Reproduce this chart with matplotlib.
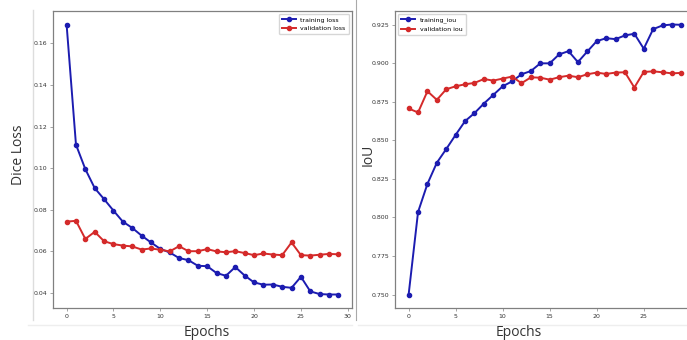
import matplotlib
matplotlib.use('Agg')
import matplotlib.pyplot as plt
from matplotlib.lines import Line2D
import numpy as np

epochs = list(range(30))

train_loss = [0.169, 0.1113, 0.0995, 0.0904, 0.0851, 0.0796, 0.0743, 0.0713, 0.0676, 0.0643,
              0.0612, 0.0595, 0.0568, 0.0558, 0.0531, 0.0529, 0.0496, 0.0483, 0.0525, 0.0484,
              0.0451, 0.0440, 0.0441, 0.0430, 0.0425, 0.0478, 0.0408, 0.0395, 0.0393, 0.0393]
val_loss = [0.0743, 0.0747, 0.0660, 0.0694, 0.0649, 0.0635, 0.0628, 0.0624, 0.0609, 0.0614,
            0.0608, 0.0600, 0.0625, 0.0601, 0.0601, 0.0611, 0.0600, 0.0596, 0.0601, 0.0592,
            0.0582, 0.0590, 0.0585, 0.0582, 0.0643, 0.0582, 0.0580, 0.0584, 0.0588, 0.0586]

train_iou = [0.750, 0.8035, 0.8218, 0.8355, 0.8444, 0.8536, 0.8625, 0.8677, 0.8739, 0.8795,
             0.8851, 0.8883, 0.8929, 0.8950, 0.9000, 0.9000, 0.9058, 0.9079, 0.9008, 0.9077,
             0.9144, 0.9163, 0.9157, 0.9181, 0.9192, 0.9095, 0.9222, 0.9246, 0.9252, 0.9250]
val_iou = [0.8707, 0.8681, 0.8819, 0.8763, 0.8832, 0.8851, 0.8864, 0.8873, 0.8898, 0.8888,
           0.8901, 0.8914, 0.8871, 0.8909, 0.8907, 0.8894, 0.8910, 0.8920, 0.8910, 0.8929,
           0.8940, 0.8931, 0.8940, 0.8942, 0.8843, 0.8944, 0.8948, 0.8942, 0.8935, 0.8938]

blue = '#1c1cb0'
red = '#d42a2a'
W, H = 687.0, 340.0

fig = plt.figure(figsize=(6.87, 3.40), dpi=100)

def style(ax):
    for s in ax.spines.values():
        s.set_color('#808080')
        s.set_linewidth(0.9)
    ax.tick_params(labelsize=4.5, length=2, width=0.5, colors='#808080', labelcolor='#333333', pad=2)

ax1 = fig.add_axes([53 / W, 1 - 308 / H, 299 / W, 297 / H])
ax1.plot(epochs, train_loss, '-o', color=blue, lw=1.4, ms=3, label='training loss')
ax1.plot(epochs, val_loss, '-o', color=red, lw=1.4, ms=3, label='validation loss')
ax1.set_xticks([0, 5, 10, 15, 20, 25, 30])
ax1.set_yticks([0.04, 0.06, 0.08, 0.10, 0.12, 0.14, 0.16])
ax1.set_xlim(-1.45, 30.45)
ax1.legend(loc='upper right', fontsize=4.5, frameon=True, handlelength=2.2, borderpad=0.5)
style(ax1)

ax2 = fig.add_axes([395 / W, 1 - 308 / H, 300 / W, 297 / H])
ax2.plot(epochs, train_iou, '-o', color=blue, lw=1.4, ms=3, label='training_iou')
ax2.plot(epochs, val_iou, '-o', color=red, lw=1.4, ms=3, label='validation iou')
ax2.set_xticks([0, 5, 10, 15, 20, 25])
ax2.set_yticks([0.750, 0.775, 0.800, 0.825, 0.850, 0.875, 0.900, 0.925])
ax2.set_xlim(-1.45, 30.45)
ax2.legend(loc='upper left', fontsize=4.5, frameon=True, handlelength=2.2, borderpad=0.5)
style(ax2)

# screenshot frame lines
grey = '#dddddd'
fig.add_artist(Line2D([33 / W, 33 / W], [1 - 10 / H, 1 - 320 / H], color=grey, lw=1))
fig.add_artist(Line2D([28 / W, 352 / W], [1 - 325 / H, 1 - 325 / H], color='#eeeeee', lw=1))
fig.add_artist(Line2D([356 / W, 356 / W], [1.0, 1 - 320 / H], color='#aaaaaa', lw=0.8))
fig.add_artist(Line2D([358 / W, 1.0], [1 - 325 / H, 1 - 325 / H], color='#eeeeee', lw=1))

fig.text(18 / W, 1 - 155 / H, 'Dice Loss', rotation=90, ha='center', va='center',
         fontsize=10, color='#333333', family='Open Sans')
fig.text(207 / W, 1 - 332 / H, 'Epochs', ha='center', va='center',
         fontsize=10, color='#333333', family='Open Sans')
fig.text(368 / W, 1 - 155 / H, 'IoU', rotation=90, ha='center', va='center',
         fontsize=10, color='#333333', family='Open Sans')
fig.text(519 / W, 1 - 332 / H, 'Epochs', ha='center', va='center',
         fontsize=10, color='#333333', family='Open Sans')

fig.savefig('out.png', dpi=100)
